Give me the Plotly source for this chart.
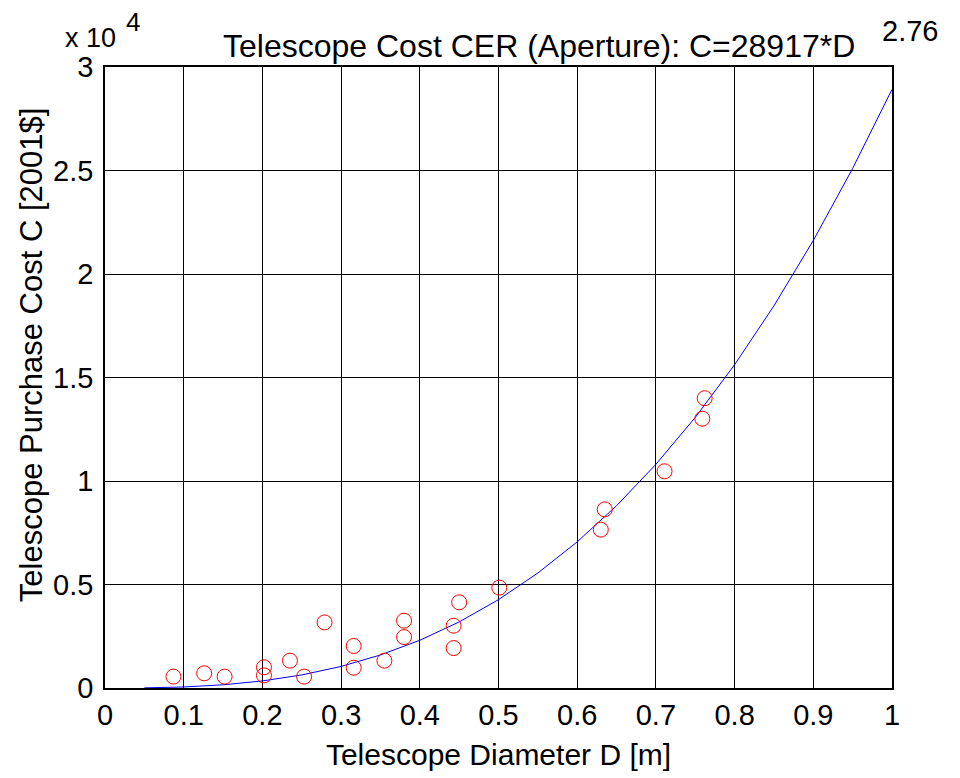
import plotly.graph_objects as go

# Observed telescope data (diameter in m, cost in 2001$)
obs_D = [0.087, 0.126, 0.152, 0.202, 0.202, 0.235, 0.253, 0.279, 0.316, 0.316,
         0.355, 0.380, 0.380, 0.443, 0.443, 0.450, 0.501, 0.630, 0.635, 0.711,
         0.759, 0.762]
obs_C = [550, 710, 550, 1000, 610, 1320, 550, 3170, 2030, 980,
         1320, 3250, 2460, 3010, 1930, 4140, 4850, 7650, 8630, 10470,
         13010, 14000]

# Fitted CER curve C = 28917*D^2.76 (sampled values)
fit_D = [0.05, 0.10, 0.15, 0.20, 0.25, 0.30, 0.35, 0.40, 0.45, 0.50,
         0.55, 0.60, 0.65, 0.70, 0.75, 0.80, 0.85, 0.90, 0.95, 1.00]
fit_C = [7, 50, 154, 341, 631, 1042, 1595, 2306, 3191, 4269,
         5554, 7060, 8806, 10806, 13072, 15619, 18465, 21620, 25100, 28917]

x_ticks = [0, 0.1, 0.2, 0.3, 0.4, 0.5, 0.6, 0.7, 0.8, 0.9, 1]
x_tick_text = ["0", "0.1", "0.2", "0.3", "0.4", "0.5", "0.6", "0.7", "0.8", "0.9", "1"]
y_ticks = [0, 5000, 10000, 15000, 20000, 25000, 30000]
y_tick_text = ["0", "0.5", "1", "1.5", "2", "2.5", "3"]

FONT = "Liberation Sans, Arial, sans-serif"

fig = go.Figure()
fig.add_trace(go.Scatter(x=fit_D, y=fit_C, mode="lines",
                         line=dict(color="blue", width=1), showlegend=False))
fig.add_trace(go.Scatter(x=obs_D, y=obs_C, mode="markers",
                         marker=dict(symbol="circle-open", size=15,
                                     color="red", line=dict(width=1, color="red")),
                         showlegend=False))

fig.update_layout(
    width=952, height=770,
    margin=dict(l=97, r=68, t=59, b=90),
    paper_bgcolor="white", plot_bgcolor="white",
    font=dict(family=FONT, size=29, color="black"),
    xaxis=dict(range=[0, 1], tickvals=x_ticks, ticktext=x_tick_text,
               showgrid=True, gridcolor="black", gridwidth=1,
               showline=True, linecolor="black", linewidth=1.5, mirror=True,
               zeroline=False, ticks="", tickfont=dict(size=29),
               title=dict(text="Telescope Diameter D [m]", font=dict(size=30), standoff=14)),
    yaxis=dict(range=[0, 30000], tickvals=y_ticks, ticktext=y_tick_text,
               showgrid=True, gridcolor="black", gridwidth=1,
               showline=True, linecolor="black", linewidth=1.5, mirror=True,
               zeroline=False, ticks="", tickfont=dict(size=29), ticklabelstandoff=4),
    annotations=[
        dict(text="Telescope Cost CER (Aperture): C=28917*D", xref="paper", yref="paper",
             x=0.552, y=1.034, xanchor="center", yanchor="middle", showarrow=False,
             font=dict(size=32)),
        dict(text="2.76", xref="paper", yref="paper", x=1.023, y=1.058,
             xanchor="center", yanchor="middle", showarrow=False, font=dict(size=29)),
        dict(text="x 10", xref="paper", yref="paper", x=-0.019, y=1.046,
             xanchor="center", yanchor="middle", showarrow=False, font=dict(size=27)),
        dict(text="4", xref="paper", yref="paper", x=0.0356, y=1.073,
             xanchor="center", yanchor="middle", showarrow=False, font=dict(size=26)),
        dict(text="Telescope Purchase Cost C [2001$]", xref="paper", yref="paper",
             x=-0.094, y=0.536, xanchor="center", yanchor="middle", textangle=-90,
             showarrow=False, font=dict(size=31)),
    ],
)

fig.write_html("out.html")
